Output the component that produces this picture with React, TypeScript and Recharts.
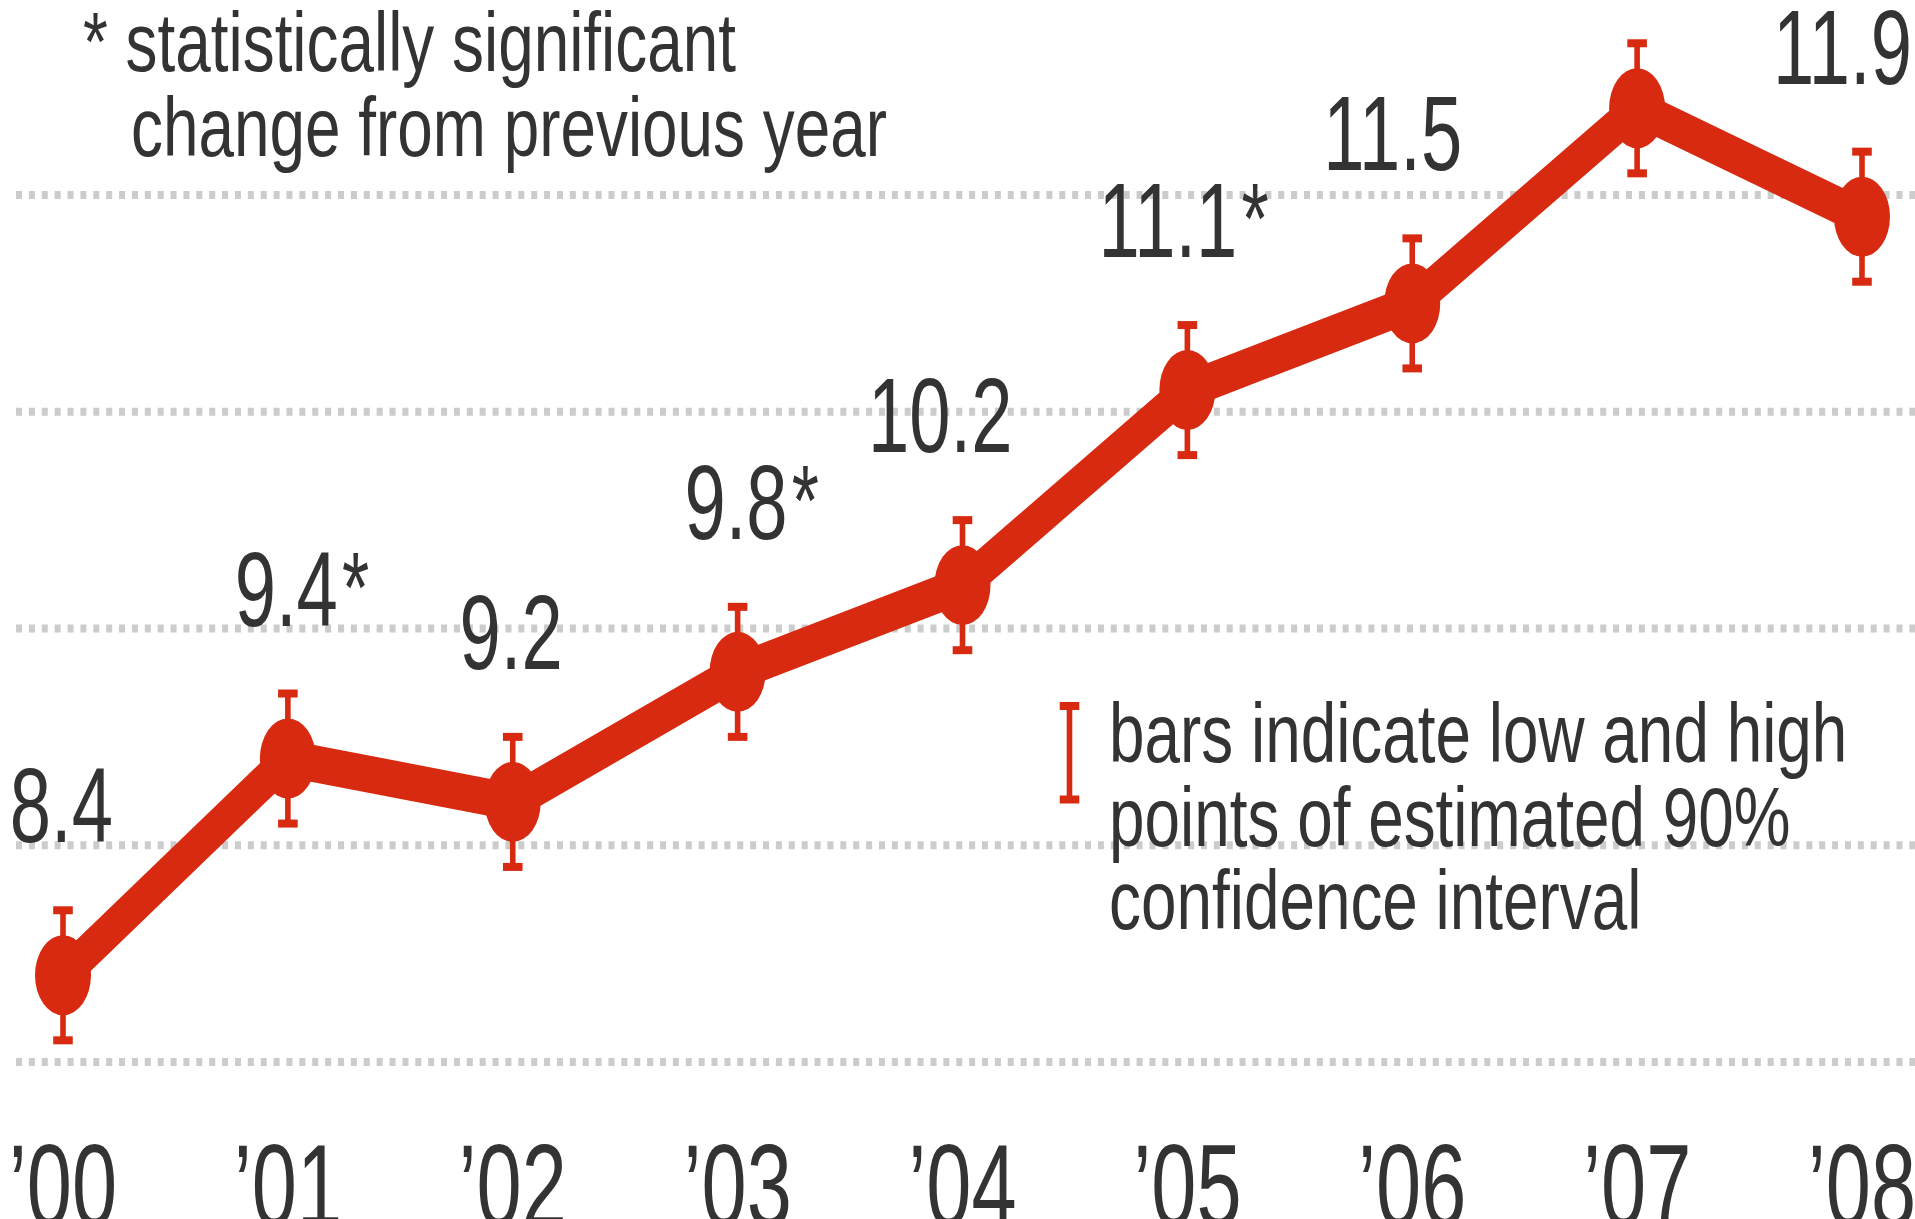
import React from "react";
import {
  CartesianGrid,
  ErrorBar,
  LabelList,
  Line,
  LineChart,
  XAxis,
  YAxis,
} from "recharts";

// values
const years = ["’00", "’01", "’02", "’03", "’04", "’05", "’06", "’07", "’08"];
const rates = [8.4, 9.4, 9.2, 9.8, 10.2, 11.1, 11.5, 12.4, 11.9];
const lows = [8.1, 9.1, 8.9, 9.5, 9.9, 10.8, 11.2, 12.1, 11.6];
const highs = [8.7, 9.7, 9.5, 10.1, 10.5, 11.4, 11.8, 12.7, 12.2];
const valueLabels = ["8.4", "9.4", "9.2", "9.8", "10.2", "11.1", "11.5", "", "11.9"];
const significant = [false, true, false, true, false, true, false, false, false];
const gridTicks = [8, 9, 10, 11, 12];
const noteLines = ["* statistically significant", "change from previous year"];
const legendLines = [
  "bars indicate low and high",
  "points of estimated 90%",
  "confidence interval",
];

const RED = "#d82a10";
const INK = "#333333";
const FONT = "'Liberation Sans', Arial, Helvetica, sans-serif";

// the reference is squeezed horizontally, so the chart is drawn wide and scaled down
const S = 0.7;
const W = 1915 / S;
const H = 1219;

const data = years.map((year, i) => ({
  year,
  rate: rates[i],
  err: [rates[i] - lows[i], highs[i] - rates[i]],
}));

const ValueLabel = (props: any) => {
  const { x, y, index } = props;
  const text = valueLabels[index];
  if (!text) return null;
  const right = x + 50 / S;
  const base = y - 133;
  return (
    <g>
      <text x={right} y={base} textAnchor="end" fontSize={106} fill={INK} fontFamily={FONT}>
        {text}
      </text>
      {significant[index] && (
        <text x={right + 6} y={base - 4} fontSize={100} fill={INK} fontFamily={FONT}>
          *
        </text>
      )}
    </g>
  );
};

const YearTick = (props: any) => {
  const { x, y, payload } = props;
  return (
    <text x={x} y={y + 164} textAnchor="middle" fontSize={116} fill={INK} fontFamily={FONT}>
      {payload.value}
    </text>
  );
};

const Note = ({ x, y, children }: { x: number; y: number; children: string }) => (
  <text
    transform={`translate(${x},${y}) scale(1.086,1)`}
    fontSize={84}
    fill={INK}
    fontFamily={FONT}
  >
    {children}
  </text>
);

export default function App() {
  return (
    <div
      style={{
        position: "absolute",
        left: 0,
        top: 0,
        width: 1915,
        height: H,
        overflow: "hidden",
        background: "#fff",
      }}
    >
      <div
        style={{
          position: "relative",
          width: W,
          height: H,
          transform: `scaleX(${S})`,
          transformOrigin: "0 0",
        }}
      >
        <LineChart
          width={W}
          height={H}
          data={data}
          margin={{ top: 21.6, right: 0, bottom: 0, left: 16 / S }}
        >
          <CartesianGrid
            vertical={false}
            horizontalValues={gridTicks}
            stroke="#cccccc"
            strokeWidth={8}
            strokeDasharray="8.6 9.8"
          />
          <XAxis
            dataKey="year"
            scale="point"
            padding={{ left: 47 / S, right: 53 / S }}
            height={157}
            axisLine={false}
            tickLine={false}
            tickSize={0}
            tickMargin={0}
            interval={0}
            tick={<YearTick />}
          />
          <YAxis
            domain={[8, 12.8]}
            ticks={gridTicks}
            width={0}
            axisLine={false}
            tickLine={false}
            tick={() => <g />}
          />
          <Line
            type="linear"
            dataKey="rate"
            stroke={RED}
            strokeWidth={37}
            strokeLinejoin="round"
            dot={{ r: 40, fill: RED, stroke: "none" }}
            activeDot={false}
            isAnimationActive={false}
          >
            <ErrorBar dataKey="err" direction="y" width={14} strokeWidth={8} stroke={RED} />
            <LabelList dataKey="rate" content={<ValueLabel />} />
          </Line>
        </LineChart>
        <svg
          width={W}
          height={H}
          style={{ position: "absolute", left: 0, top: 0, pointerEvents: "none" }}
        >
          <Note x={83 / S} y={71}>{noteLines[0]}</Note>
          <Note x={131 / S} y={156}>{noteLines[1]}</Note>
          <g stroke={RED} strokeWidth={8}>
            <line x1={1069.5 / S} x2={1069.5 / S} y1={706} y2={799.5} />
            <line x1={1069.5 / S - 14} x2={1069.5 / S + 14} y1={706} y2={706} />
            <line x1={1069.5 / S - 14} x2={1069.5 / S + 14} y1={799.5} y2={799.5} />
          </g>
          {legendLines.map((t, i) => (
            <Note key={t} x={1109 / S} y={762 + i * 83.5}>
              {t}
            </Note>
          ))}
        </svg>
      </div>
    </div>
  );
}
